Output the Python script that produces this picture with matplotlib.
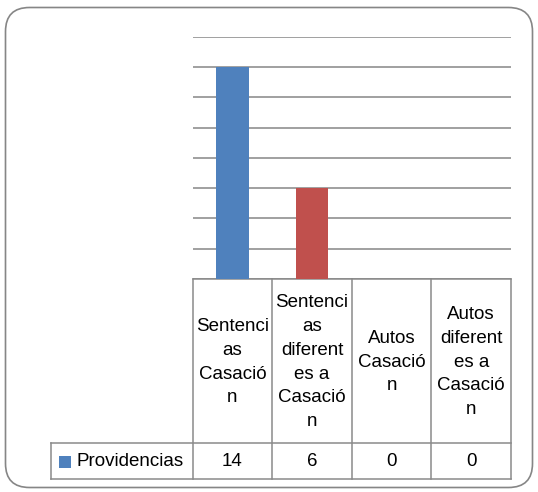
import numpy as np
import matplotlib
matplotlib.use("Agg")
import matplotlib.pyplot as plt
from matplotlib.patches import FancyBboxPatch, Rectangle

plt.rcParams["font.family"] = ["Liberation Sans", "DejaVu Sans"]

# datos
categorias = ["Sentenci\nas\nCasació\nn",
              "Sentenci\nas\ndiferent\nes a\nCasació\nn",
              "Autos\nCasació\nn",
              "Autos\ndiferent\nes a\nCasació\nn"]
providencias = [14, 6, 0, 0]
colores = ["#4F81BD", "#C0504D"]
serie = "Providencias"

W, H = 538, 492
fig = plt.figure(figsize=(W / 100, H / 100), dpi=100)

# capa de fondo en pixeles (borde, tabla)
bg = fig.add_axes([0, 0, 1, 1])
bg.set_xlim(0, W)
bg.set_ylim(H, 0)
bg.axis("off")

gris = "#868686"
borde = FancyBboxPatch((5.5, 7.5), W - 11, H - 12,
                       boxstyle="round,pad=0,rounding_size=24",
                       fc="white", ec=gris, lw=1.2)
bg.add_patch(borde)

# area de barras
x0, x1 = 192.5, 511.0
y_top, y_bot = 36.7, 279.0
ax = fig.add_axes([x0 / W, 1 - y_bot / H, (x1 - x0) / W, (y_bot - y_top) / H])
ax.patch.set_alpha(0)
x = np.arange(len(providencias))
barras = ax.bar(x, providencias, width=0.41, color=colores[0], zorder=3)
# segunda barra en rojo (color por punto como en Excel)
barras[1].set_facecolor(colores[1])
ax.set_xlim(-0.5, len(providencias) - 0.5)
ax.set_ylim(0, 16)
ax.set_yticks(np.arange(0, 17, 2))
ax.yaxis.grid(True, color=gris, lw=1.1)
ax.set_axisbelow(True)
ax.tick_params(left=False, bottom=False, labelleft=False, labelbottom=False)
for s in ax.spines.values():
    s.set_visible(False)

# tabla de datos
col_w = (x1 - x0) / len(providencias)
y_mid = 443.3
y_fin = 478.7
x_lab = 51.0
lc = "#8a8a8a"
kw = dict(color=lc, lw=1.1)
bg.plot([x0, x1], [y_bot, y_bot], **kw)
bg.plot([x_lab, x1], [y_mid, y_mid], **kw)
bg.plot([x_lab, x1], [y_fin, y_fin], **kw)
bg.plot([x_lab, x_lab], [y_mid, y_fin], **kw)
for i in range(len(providencias) + 1):
    bg.plot([x0 + i * col_w] * 2, [y_bot, y_fin], **kw)

fs = 13.5
for i, (c, v) in enumerate(zip(categorias, providencias)):
    cx = x0 + (i + 0.5) * col_w
    bg.text(cx, (y_bot + y_mid) / 2 + 1, c, ha="center", va="center",
            fontsize=fs, linespacing=1.52, color="black")
    bg.text(cx, (y_mid + y_fin) / 2 + 1, str(v), ha="center", va="center",
            fontsize=fs, color="black")

bg.add_patch(Rectangle((59, 455.5), 12, 12, fc=colores[0], ec="none"))
bg.text(77, (y_mid + y_fin) / 2 + 1, serie, ha="left", va="center",
        fontsize=fs, color="black")

fig.savefig("out.png", dpi=100)
